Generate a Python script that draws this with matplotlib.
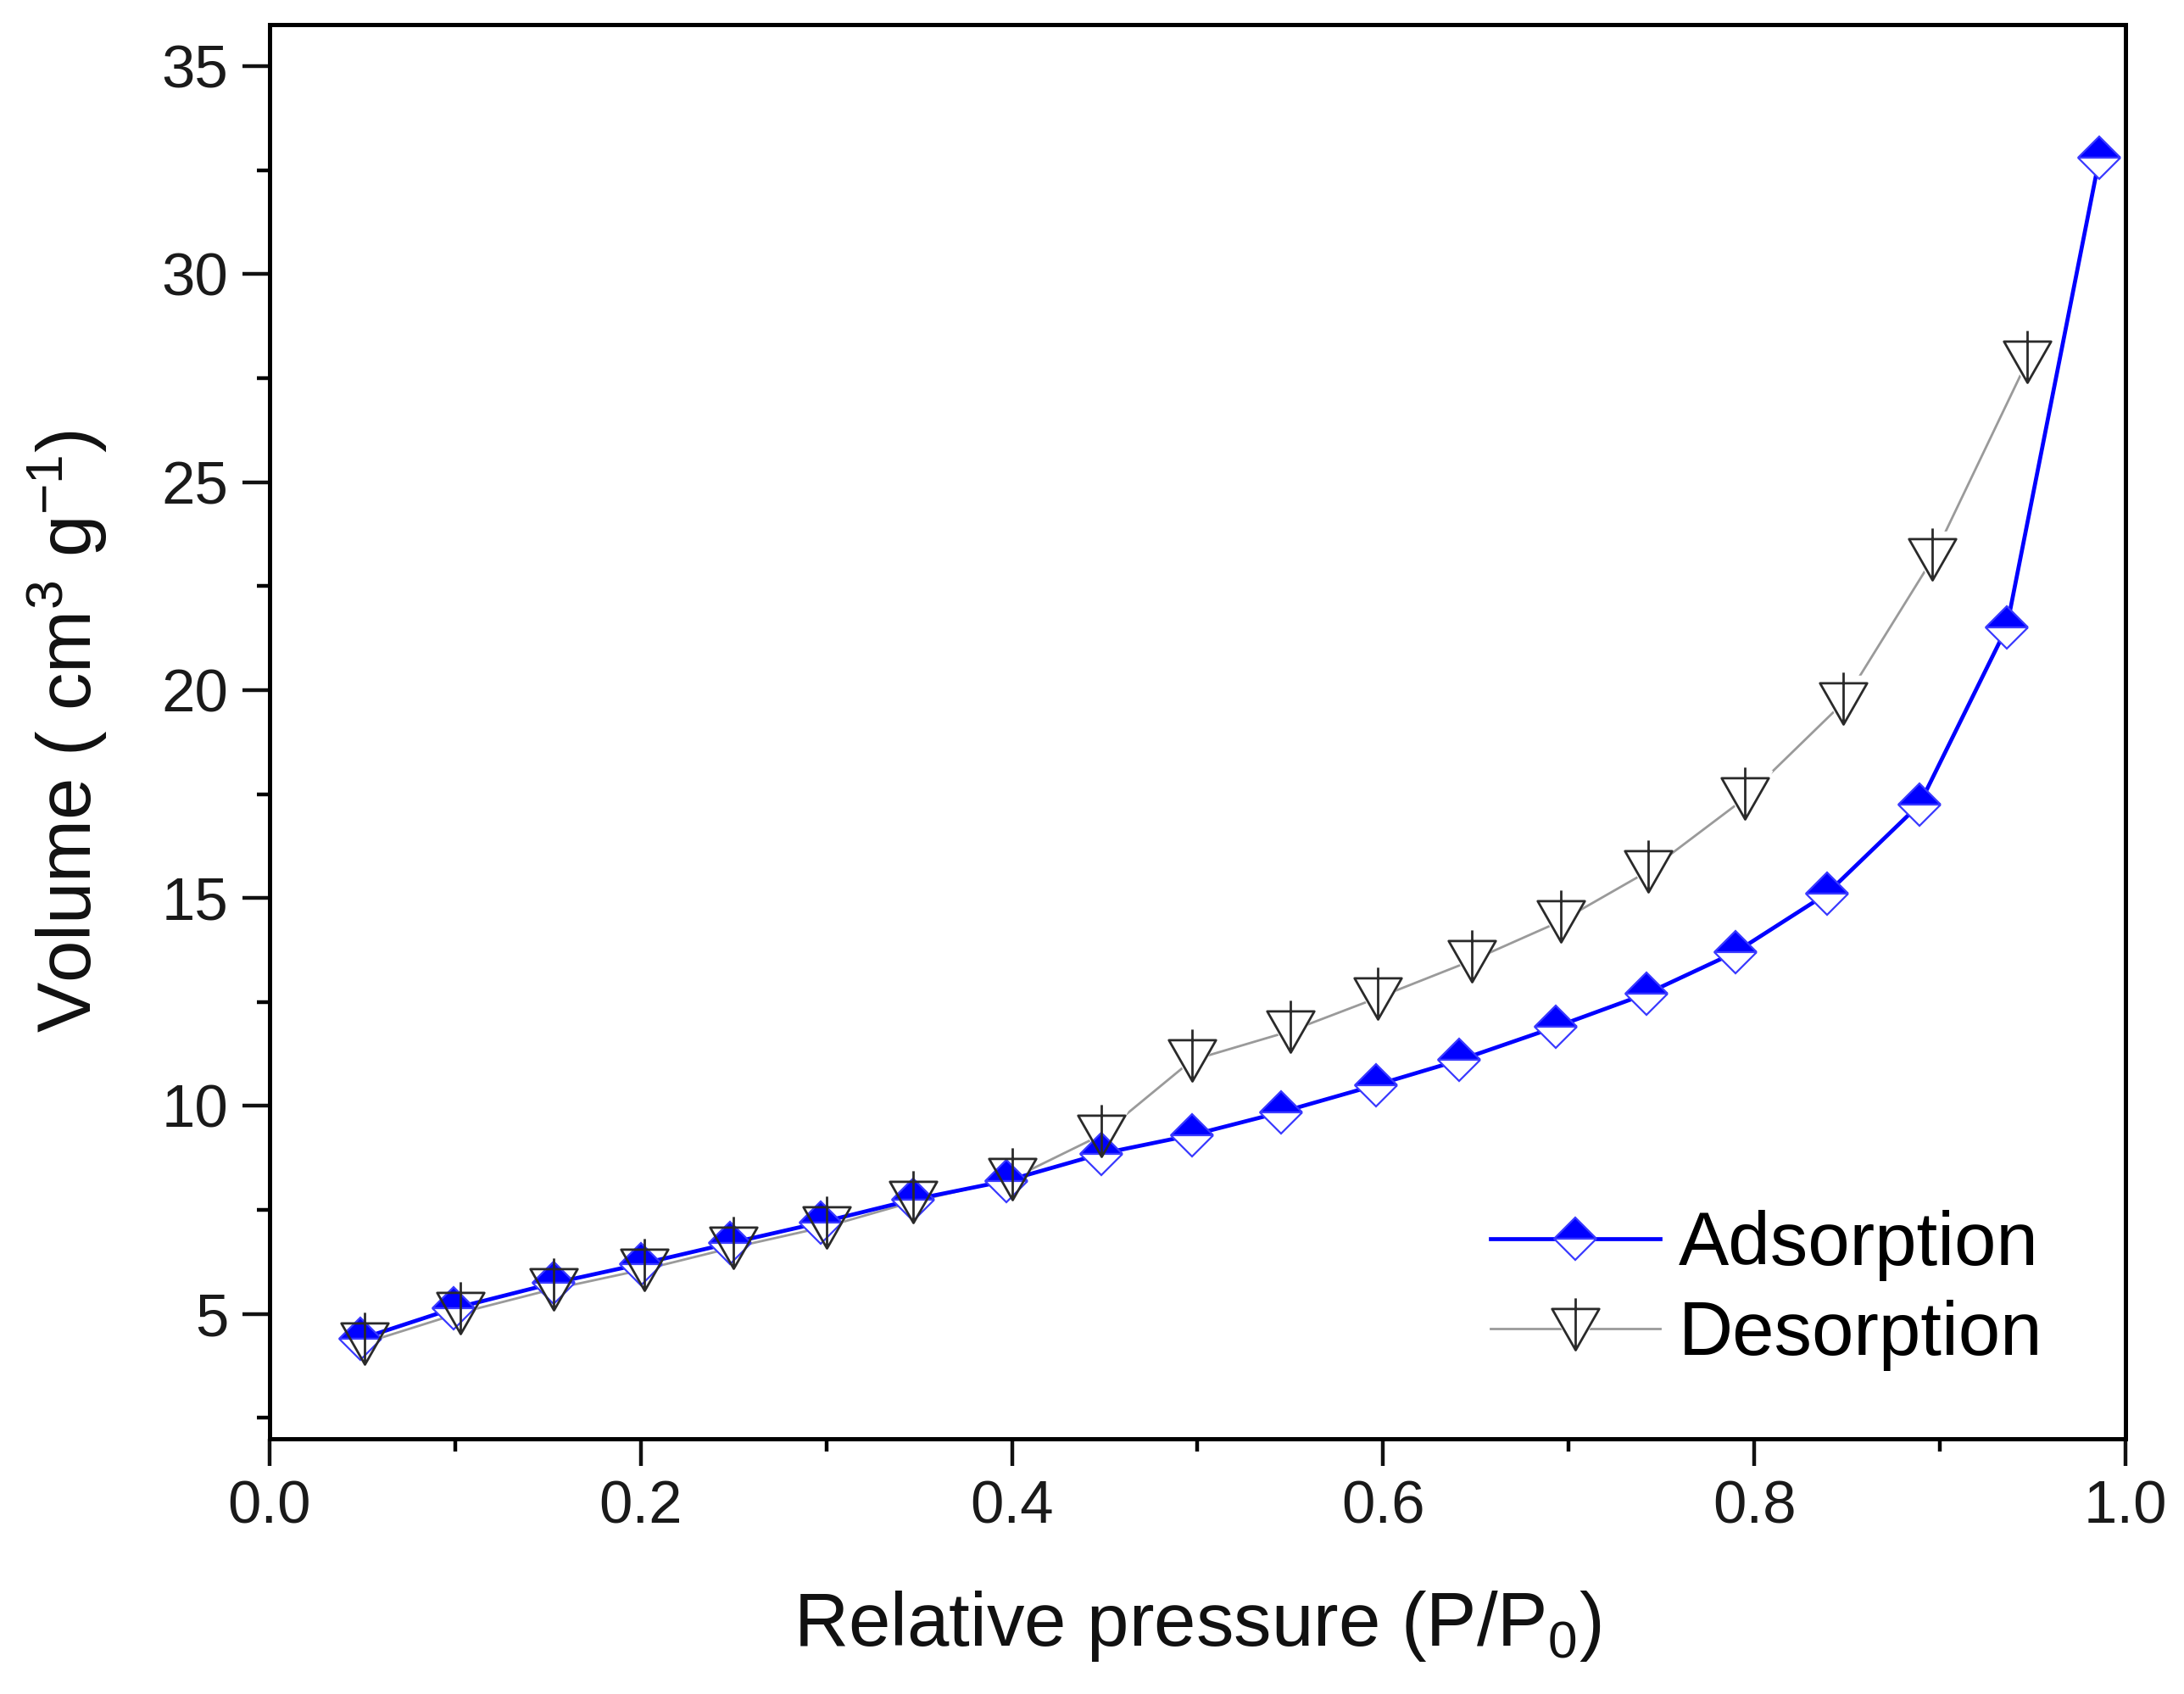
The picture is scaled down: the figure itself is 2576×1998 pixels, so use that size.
import matplotlib
matplotlib.use("Agg")
import matplotlib.pyplot as plt
from matplotlib.path import Path
from matplotlib.lines import Line2D
from matplotlib.legend_handler import HandlerTuple
from matplotlib.ticker import MultipleLocator

plt.rcParams['font.family'] = ['Liberation Sans', 'DejaVu Sans']
plt.rcParams['mathtext.default'] = 'regular'

# adsorption branch
ads_p = [0.049, 0.099, 0.153, 0.200, 0.248, 0.297, 0.347, 0.397, 0.448, 0.497,
         0.545, 0.596, 0.641, 0.693, 0.742, 0.790, 0.839, 0.889, 0.936, 0.986]
ads_v = [4.40, 5.13, 5.74, 6.20, 6.70, 7.20, 7.75, 8.20, 8.85, 9.30,
         9.85, 10.50, 11.10, 11.90, 12.70, 13.70, 15.10, 17.25, 21.50, 32.80]

# desorption branch
des_p = [0.051, 0.103, 0.153, 0.202, 0.250, 0.300, 0.347, 0.400, 0.448, 0.497,
         0.550, 0.597, 0.648, 0.696, 0.743, 0.795, 0.848, 0.896, 0.947]
des_v = [4.30, 5.03, 5.60, 6.07, 6.60, 7.10, 7.70, 8.25, 9.30, 11.10,
         11.80, 12.60, 13.50, 14.45, 15.65, 17.40, 19.70, 23.15, 27.90]

# down triangle with a vertical stem (Origin style symbol)
tri_verts = [(-1, 0.85), (1, 0.85), (0, -0.9), (-1, 0.85), (0, 1.3), (0, -0.9)]
tri_codes = [Path.MOVETO, Path.LINETO, Path.LINETO, Path.CLOSEPOLY,
             Path.MOVETO, Path.LINETO]
stem_tri = Path(tri_verts, tri_codes)

BLUE = '#0000ff'
GREY = '#9a9a9a'

fig = plt.figure(figsize=(25.76, 19.98), dpi=100)
ax = fig.add_axes([0.1234, 0.1507, 0.8498, 0.8348])

# desorption line, with white halos to leave gaps at the symbols
ax.plot(des_p, des_v, color=GREY, lw=2.0, zorder=2)
ax.plot(des_p, des_v, ls='none', marker='v', ms=46,
        mfc='white', mec='white', zorder=2.1)

ax.plot(ads_p, ads_v, color=BLUE, lw=3.4, marker='D', ms=25,
        fillstyle='top', mfc=BLUE, markerfacecoloralt='white',
        mec='#3a3aff', mew=1.6, zorder=3)

ax.plot(des_p, des_v, ls='none', marker=stem_tri, ms=52,
        mfc='none', mec='#2a2a2a', mew=2.0, zorder=4)

ax.set_xlim(0, 1.0)
ax.set_ylim(2, 36)
ax.xaxis.set_major_locator(MultipleLocator(0.2))
ax.xaxis.set_minor_locator(MultipleLocator(0.1))
ax.yaxis.set_major_locator(MultipleLocator(5))
ax.yaxis.set_minor_locator(MultipleLocator(2.5))
ax.set_xticks([0, 0.2, 0.4, 0.6, 0.8, 1.0])
ax.set_xticklabels(['0.0', '0.2', '0.4', '0.6', '0.8', '1.0'])

for s in ax.spines.values():
    s.set_linewidth(3.6)
ax.tick_params(which='major', direction='out', length=23, width=3.2,
               labelsize=51, pad=12, colors='#111111', labelcolor='#1a1a1a')
ax.tick_params(which='minor', direction='out', length=11, width=3.2)

ax.set_xlabel('Relative pressure (P/P$_0$)', fontsize=64, labelpad=45,
              color='#111111')
ax.set_ylabel('Volume ( cm$^3$ g$^{-1}$)', fontsize=64, labelpad=44,
              color='#111111')

ads_handle = Line2D([], [], color=BLUE, lw=3.4, marker='D', ms=25,
                    fillstyle='top', mfc=BLUE, markerfacecoloralt='white',
                    mec='#3a3aff', mew=1.6)
des_handle = (Line2D([], [], color=GREY, lw=2.0),
              Line2D([], [], ls='none', marker='v', ms=46, mfc='white', mec='white'),
              Line2D([], [], ls='none', marker=stem_tri, ms=52, mfc='none',
                     mec='#2a2a2a', mew=2.0))
ax.legend([ads_handle, des_handle], ['Adsorption', 'Desorption'],
          handler_map={tuple: HandlerTuple(ndivide=1)},
          loc='lower right', bbox_to_anchor=(0.992, 0.0), frameon=False,
          fontsize=64, handlelength=2.25, handletextpad=0.25, labelspacing=0.25,
          numpoints=1)

fig.savefig('out.png', dpi=100)
